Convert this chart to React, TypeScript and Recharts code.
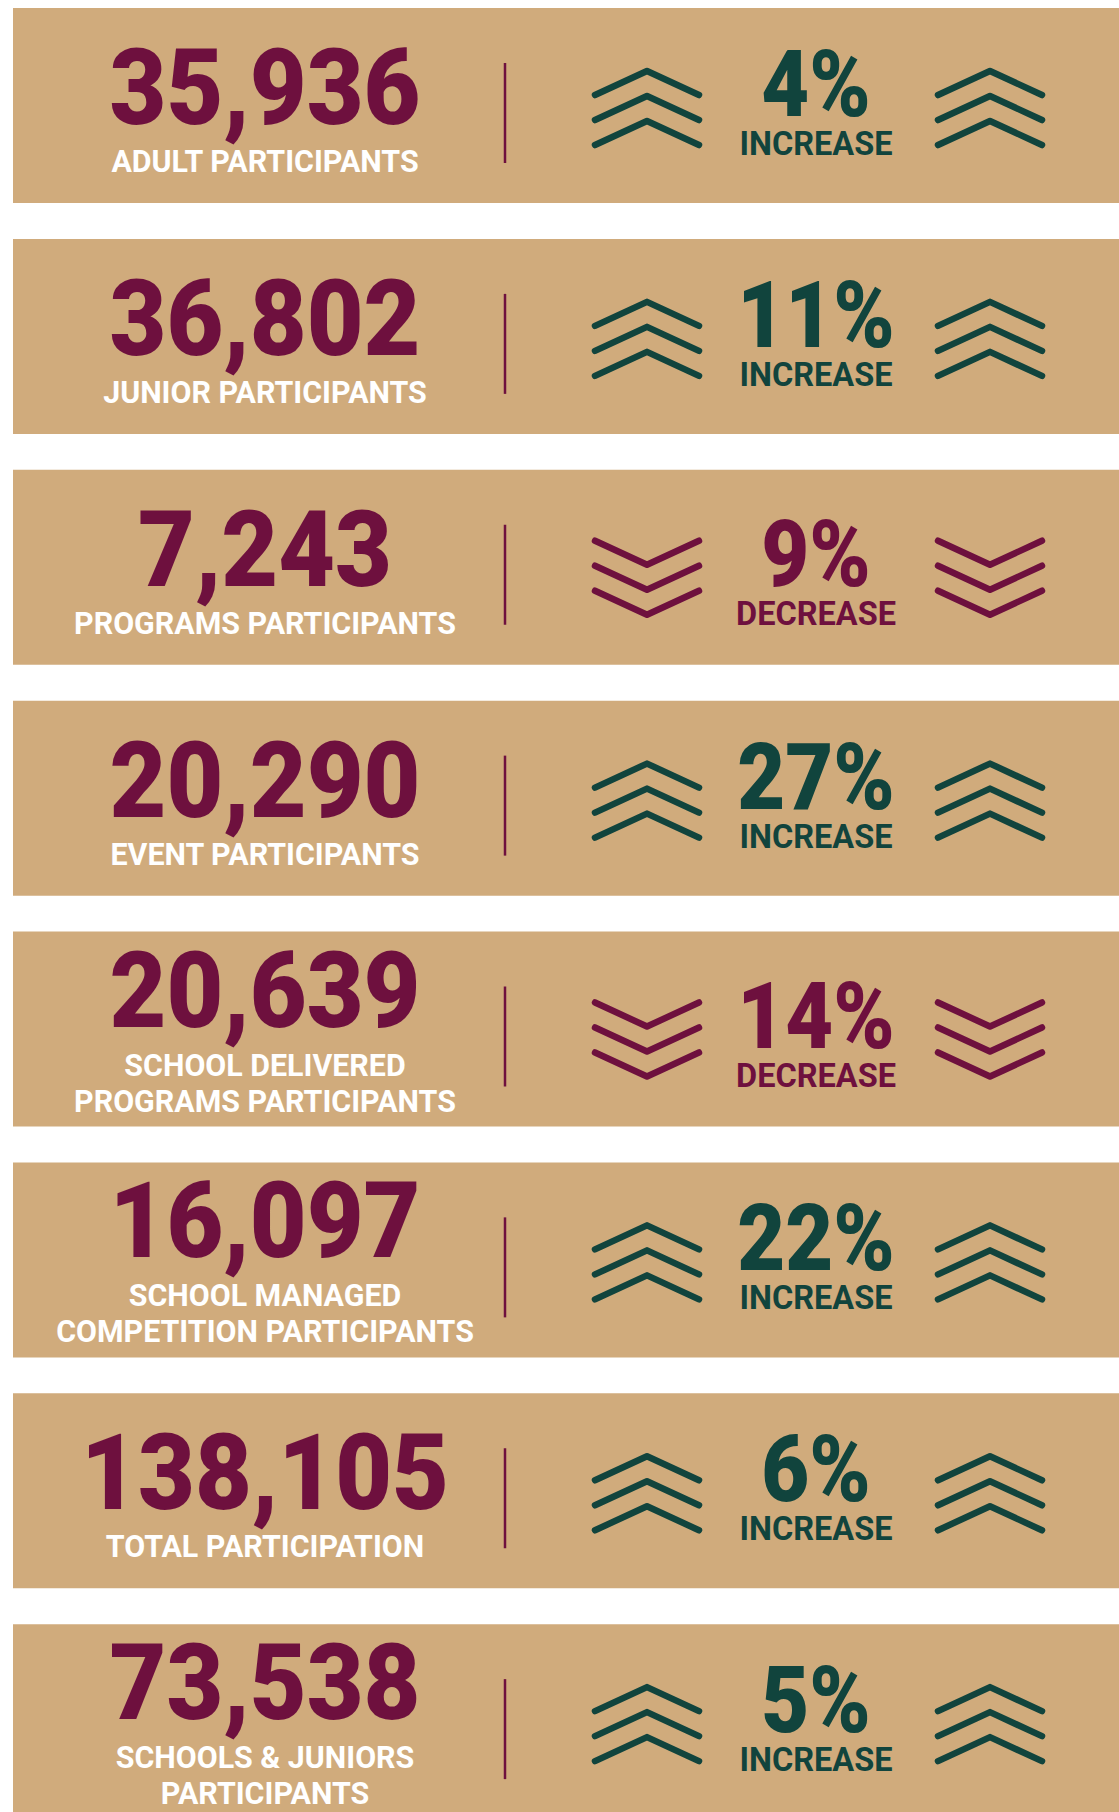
import { BarChart, Bar, XAxis, YAxis } from "recharts";

const categories = [
  "Adult",
  "Junior",
  "Programs",
  "Event",
  "School Delivered Programs",
  "School Managed Competition",
  "Total",
  "Schools & Juniors",
];

const labelLines = [
  ["ADULT PARTICIPANTS"],
  ["JUNIOR PARTICIPANTS"],
  ["PROGRAMS PARTICIPANTS"],
  ["EVENT PARTICIPANTS"],
  ["SCHOOL DELIVERED", "PROGRAMS PARTICIPANTS"],
  ["SCHOOL MANAGED", "COMPETITION PARTICIPANTS"],
  ["TOTAL PARTICIPATION"],
  ["SCHOOLS & JUNIORS", "PARTICIPANTS"],
];

const participants = [35936, 36802, 7243, 20290, 20639, 16097, 138105, 73538];

// percent change on the previous year, negative = decrease
const changePct = [4, 11, -9, 27, -14, 22, 6, 5];

const data = categories.map((name, i) => ({
  name,
  lines: labelLines[i],
  participants: participants[i],
  change: changePct[i],
}));

const TAN = "#D0AB7C";
const MAROON = "#6E103E";
const GREEN = "#11443D";
const FONT = "Roboto, 'Noto Sans', sans-serif";

const Chevrons = ({ cx, top, up, color }: { cx: number; top: number; up: boolean; color: string }) => (
  <g fill="none" stroke={color} strokeWidth={6.5} strokeLinecap="round" strokeLinejoin="round">
    {[0, 1, 2].map((i) => {
      const t = top + i * 25;
      const d = up
        ? `M${cx - 52},${t + 24} L${cx},${t} L${cx + 52},${t + 24}`
        : `M${cx - 52},${t} L${cx},${t + 24} L${cx + 52},${t}`;
      return <path key={i} d={d} />;
    })}
  </g>
);

const StatRow = (props: any) => {
  const { x, y, payload } = props;
  const up = payload.change >= 0;
  const color = up ? GREEN : MAROON;
  const lines: string[] = payload.lines;
  const two = lines.length > 1;
  const numX = x + 252;
  const pctX = x + 803;

  return (
    <g fontFamily={FONT}>
      <text
        transform={`translate(${numX} ${y + (two ? 95 : 116)}) scale(0.935 1)`}
        textAnchor="middle"
        fontSize={105}
        fontWeight={900}
        fill={MAROON}
      >
        {payload.participants.toLocaleString("en-US")}
      </text>
      {lines.map((ln, i) => (
        <text
          key={ln}
          transform={`translate(${numX} ${y + (two ? 144 : 164) + i * 36}) scale(0.98 1)`}
          textAnchor="middle"
          fontSize={31}
          fontWeight={700}
          fill="#FFFFFF"
        >
          {ln}
        </text>
      ))}
      <line x1={x + 492} x2={x + 492} y1={y + 55} y2={y + 155} stroke={MAROON} strokeWidth={2.5} />

      <Chevrons cx={x + 634} top={y + (up ? 63 : 71)} up={up} color={color} />
      <Chevrons cx={x + 977} top={y + (up ? 63 : 71)} up={up} color={color} />

      <text
        transform={`translate(${pctX} ${y + (up ? 108 : 116)}) scale(0.9 1)`}
        textAnchor="middle"
        fontSize={92}
        fontWeight={900}
        fill={color}
      >
        {`${Math.abs(payload.change)}%`}
      </text>
      <text
        transform={`translate(${pctX} ${y + (up ? 147 : 155)})`}
        textAnchor="middle"
        fontSize={32.5}
        fontWeight={700}
        fill={color}
      >
        {up ? "INCREASE" : "DECREASE"}
      </text>
    </g>
  );
};

export default function App() {
  return (
    <div
      style={{
        position: "absolute",
        left: 0,
        top: 0,
        width: 1119,
        height: 1812,
        overflow: "hidden",
        background: "#ffffff",
      }}
    >
      <div style={{ marginTop: -10 }}>
        <BarChart
          width={1119}
          height={1847}
          data={data}
          layout="vertical"
          barCategoryGap={18}
          margin={{ top: 0, right: 0, bottom: 0, left: 13 }}
        >
          <XAxis type="number" hide domain={[0, "dataMax"]} />
          <YAxis type="category" dataKey="name" hide />
          <Bar
            dataKey="participants"
            background={{ fill: TAN }}
            shape={StatRow}
            isAnimationActive={false}
          />
        </BarChart>
      </div>
    </div>
  );
}
